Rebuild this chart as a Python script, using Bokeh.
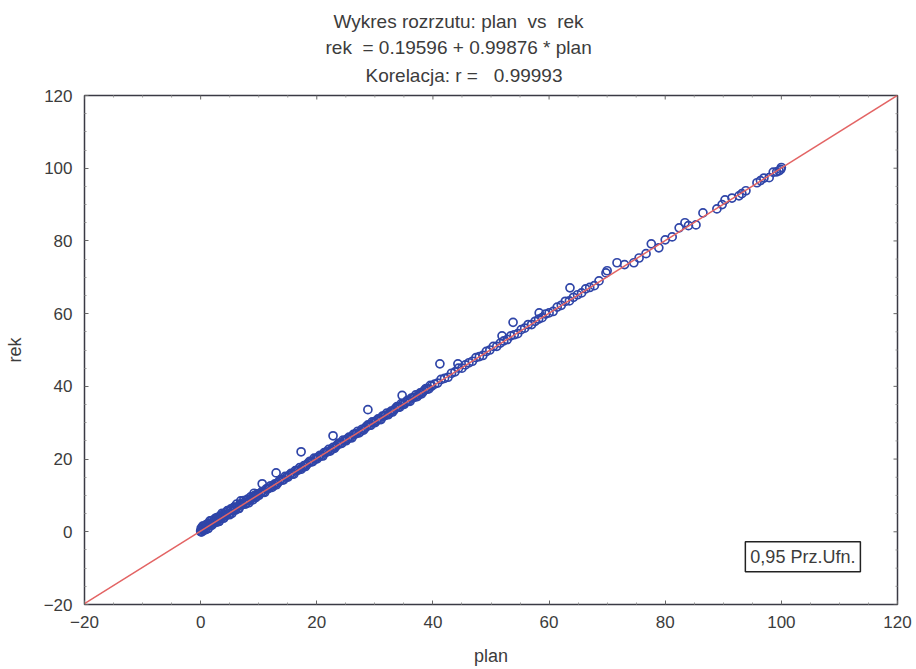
import math
from bokeh.plotting import figure
from bokeh.models import Range1d, Title, Label, FixedTicker
from bokeh.embed import file_html
from bokeh.resources import INLINE

FONT = "Liberation Sans"
TEXT_COLOR = "#3c3c3c"

# ---- data ----
plan_band_low = [0.0, 0.1, 0.2, 0.3, 0.4, 0.5, 0.7, 0.8, 1.0, 1.2, 1.3, 1.5, 1.7, 1.9, 2.0, 2.2,
                 2.4, 2.6, 2.8, 3.0, 3.2, 3.4, 3.6, 3.8, 4.0, 4.2, 4.5, 4.7, 5.0, 5.2, 5.5, 5.8,
                 6.0, 6.3, 6.6, 6.9, 7.2, 7.5, 7.8, 8.1, 8.4, 8.7, 9.0, 9.3, 9.6, 9.9]
rek_band_low = [0.2, 1.0, 0.0, 0.9, 1.5, 0.5, 1.4, 0.6, 2.0, 1.6, 0.9, 2.3, 2.0, 3.1, 1.9, 2.7,
                3.3, 2.6, 3.9, 3.3, 2.9, 4.2, 3.8, 4.8, 3.8, 4.8, 4.6, 5.6, 4.7, 5.9, 5.8, 6.8,
                6.0, 6.8, 6.4, 7.7, 7.5, 8.1, 7.7, 9.0, 8.6, 9.1, 8.8, 10.0, 9.7, 10.4]

plan_band_low2 = [0.05, 0.15, 0.25, 0.35, 0.45, 0.6, 0.9, 1.1, 1.4, 1.6, 1.8, 2.1, 2.3, 2.5,
                  2.7, 2.9, 3.1, 3.3, 3.5, 3.7, 3.9, 4.1, 4.4, 4.6, 4.9, 5.1, 5.4, 5.7, 5.9,
                  6.2, 6.5, 6.8, 7.1, 7.4, 7.7, 8.0, 8.3, 8.6, 8.9, 9.2, 9.5, 9.8]
rek_band_low2 = [0.0, 0.75, 0.55, 1.55, 0.45, 1.4, 0.6, 2.1, 1.9, 3.0, 1.7, 2.7, 2.6, 3.7,
                 2.7, 3.7, 2.8, 4.3, 4.0, 5.1, 3.8, 4.7, 4.7, 5.8, 4.9, 5.9, 5.1, 6.7, 6.4,
                 7.6, 6.4, 7.4, 7.4, 8.6, 7.7, 8.8, 8.0, 9.6, 9.4, 10.6, 9.4, 10.4]

plan_band = [10.3, 10.8, 11.3, 11.8, 12.3, 12.8, 13.3, 13.8, 14.3, 14.8, 15.3, 15.8, 16.3, 16.8,
             17.3, 17.8, 18.3, 18.8, 19.3, 19.8, 20.3, 20.8, 21.3, 21.8, 22.3, 22.8, 23.3, 23.8,
             24.3, 24.8, 25.3, 25.8, 26.3, 26.8, 27.3, 27.8, 28.3, 28.8, 29.3, 29.8, 30.3, 30.8,
             31.3, 31.8, 32.3, 32.8, 33.3, 33.8, 34.3, 34.8, 35.3, 35.8, 36.3, 36.8, 37.3, 37.8,
             38.3, 38.8, 39.3, 39.8, 40.3, 40.8, 41.4, 42.0, 42.6, 43.2, 43.8, 44.4, 45.0, 45.6,
             46.2, 46.8, 47.4, 48.0, 48.6, 49.2, 49.8, 50.4, 51.0, 51.6, 52.2, 52.8, 53.4, 54.0,
             54.6, 55.2, 55.8, 56.4, 57.0, 57.6, 58.2, 58.8, 59.4, 60.0, 60.7, 61.4, 62.1, 62.8,
             63.5, 64.2, 64.9, 65.6, 66.3, 67.0, 67.8, 68.6]
rek_band = [10.6, 10.9, 11.8, 12.0, 12.2, 13.2, 13.5, 14.4, 14.3, 15.1, 15.6, 15.9, 16.8, 17.0,
            17.2, 18.2, 18.5, 19.4, 19.3, 20.1, 20.6, 20.9, 21.8, 22.0, 22.2, 23.2, 23.5, 24.4,
            24.3, 25.1, 25.6, 25.9, 26.8, 27.0, 27.2, 28.2, 28.5, 29.4, 29.3, 30.1, 30.6, 30.9,
            31.8, 32.0, 32.2, 33.2, 33.5, 34.4, 34.3, 35.1, 35.6, 35.9, 36.8, 37.0, 37.2, 38.2,
            38.5, 39.4, 39.3, 40.1, 40.6, 40.9, 41.9, 42.2, 42.5, 43.6, 44.0, 45.0, 45.0, 45.9,
            46.5, 46.9, 47.9, 48.2, 48.5, 49.6, 50.0, 51.0, 51.0, 51.9, 52.5, 52.9, 53.9, 54.2,
            54.5, 55.6, 56.0, 57.0, 57.0, 57.9, 58.5, 58.9, 59.9, 60.2, 60.6, 61.8, 62.3, 63.4,
            63.5, 64.5, 65.2, 65.7, 66.8, 67.2, 67.7, 69.0]

plan_band2 = [10.05, 10.55, 11.05, 11.55, 12.05, 12.55, 13.05, 13.55, 14.05, 14.55,
              15.05, 15.55, 16.05, 16.55, 17.05, 17.55, 18.05, 18.55, 19.05, 19.55,
              20.05, 20.55, 21.05, 21.55, 22.05, 22.55, 23.05, 23.55, 24.05, 24.55,
              25.05, 25.55, 26.05, 26.55, 27.05, 27.55, 28.05, 28.55, 29.05, 29.55,
              30.05, 30.55, 31.05, 31.55, 32.05, 32.55, 33.05, 33.55, 34.05, 34.55,
              35.05, 35.55, 36.05, 36.55, 37.05, 37.55, 38.05, 38.55, 39.05, 39.55]
rek_band2 = [10.05, 11.05, 10.85, 11.85, 12.65, 12.65, 12.95, 13.95, 14.25, 15.25,
             15.05, 16.05, 15.85, 16.85, 17.65, 17.65, 17.95, 18.95, 19.25, 20.25,
             20.05, 21.05, 20.85, 21.85, 22.65, 22.65, 22.95, 23.95, 24.25, 25.25,
             25.05, 26.05, 25.85, 26.85, 27.65, 27.65, 27.95, 28.95, 29.25, 30.25,
             30.05, 31.05, 30.85, 31.85, 32.65, 32.65, 32.95, 33.95, 34.25, 35.25,
             35.05, 36.05, 35.85, 36.85, 37.65, 37.65, 37.95, 38.95, 39.25, 40.25]

plan_upper = [69.8, 71.7, 73.0, 74.6, 75.5, 76.7, 77.6, 78.9, 80.0, 81.2, 82.4, 83.4, 84.0, 85.3,
              86.5, 88.9, 89.8, 90.3, 91.5, 92.7, 93.2, 93.9, 95.8, 96.4, 97.0, 97.9, 98.6, 99.2,
              99.6, 99.9, 100.0]
rek_upper = [71.2, 74.0, 73.5, 74.0, 75.3, 76.5, 79.2, 78.1, 80.3, 81.1, 83.6, 85.0, 84.2, 84.4,
             87.7, 88.8, 90.0, 91.3, 91.8, 92.4, 93.0, 93.8, 96.0, 96.6, 97.3, 97.4, 98.9, 99.0,
             99.3, 99.7, 100.2]

plan_out = [5.2, 6.9, 10.6, 13.0, 17.3, 22.8, 28.8, 34.7, 41.2, 44.3, 51.9, 53.8, 58.3, 63.6, 70.0]
rek_out = [6.3, 8.5, 13.2, 16.2, 22.0, 26.4, 33.6, 37.5, 46.2, 46.2, 53.9, 57.6, 60.2, 67.1, 71.8]

plan = plan_band_low + plan_band_low2 + plan_band + plan_band2 + plan_upper + plan_out
rek = rek_band_low + rek_band_low2 + rek_band + rek_band2 + rek_upper + rek_out

intercept = 0.19596
slope = 0.99876
axis_lo, axis_hi = -20, 120
tick_values = [-20, 0, 20, 40, 60, 80, 100, 120]
title_lines = ["Wykres rozrzutu: plan\u00a0 vs\u00a0 rek",
               "rek\u00a0 = 0.19596 + 0.99876 * plan",
               "Korelacja: r =\u00a0\u00a0 0.99993"]
legend_text = "0,95 Prz.Ufn."

# ---- figure ----
p = figure(width=916, height=669, output_backend="svg", toolbar_location=None,
           x_range=Range1d(axis_lo, axis_hi), y_range=Range1d(axis_lo, axis_hi),
           min_border_left=84, min_border_right=19, min_border_top=95, min_border_bottom=65,
           x_axis_label="plan", y_axis_label="rek", title=None)
p.background_fill_color = "white"
p.border_fill_color = "white"
p.grid.visible = False
p.outline_line_color = "#3a3a44"
p.outline_line_width = 1.5

minor = [v for v in range(axis_lo, axis_hi + 1, 5) if v not in tick_values]
ticker = FixedTicker(ticks=tick_values, minor_ticks=minor)

def style_axis(ax):
    ax.ticker = ticker
    ax.axis_line_color = None
    ax.major_tick_in = 4
    ax.major_tick_out = 0
    ax.minor_tick_in = 2
    ax.minor_tick_out = 0
    ax.major_tick_line_color = "#666666"
    ax.minor_tick_line_color = "#999999"
    ax.major_label_text_font = FONT
    ax.major_label_text_font_size = "17px"
    ax.major_label_text_color = TEXT_COLOR
    ax.axis_label_text_font = FONT
    ax.axis_label_text_font_size = "18px"
    ax.axis_label_text_font_style = "normal"
    ax.axis_label_text_color = TEXT_COLOR

for ax in p.xaxis:
    style_axis(ax)
    ax.major_label_standoff = 11
    ax.axis_label_standoff = 15
for ax in p.yaxis:
    style_axis(ax)
    ax.major_label_standoff = 12
    ax.axis_label_standoff = 16
    ax.major_label_orientation = "horizontal"

# titles (bottom line added first so it sits nearest the plot)
title_offsets = [249, 241, 281]
title_standoffs = [15, -9, 19]
for line, off, so in reversed(list(zip(title_lines, title_offsets, title_standoffs))):
    p.add_layout(Title(text=line, align="left", offset=off, text_font=FONT,
                       text_font_size="19px", text_font_style="normal",
                       text_color=TEXT_COLOR, standoff=so), "above")

# inward tick marks on the top and right edges of the frame
p.scatter(tick_values, [axis_hi] * len(tick_values), marker="dash", angle=math.pi / 2,
          size=8, line_color="#666666", line_width=1)
p.scatter(minor, [axis_hi] * len(minor), marker="dash", angle=math.pi / 2,
          size=4, line_color="#999999", line_width=1)
p.scatter([axis_hi] * len(tick_values), tick_values, marker="dash",
          size=8, line_color="#666666", line_width=1)
p.scatter([axis_hi] * len(minor), minor, marker="dash",
          size=4, line_color="#999999", line_width=1)

p.scatter(plan, rek, marker="circle", size=8, fill_color=None,
          line_color="#2f45a8", line_width=1.7)

line_x = [axis_lo, axis_hi]
line_y = [intercept + slope * v for v in line_x]
p.line(line_x, line_y, line_color="#e36464", line_width=1.5)

p.add_layout(Label(x=93.8, y=-6.9, text=legend_text, text_font=FONT, text_font_size="18px",
                   text_color=TEXT_COLOR, text_baseline="middle", text_align="left",
                   border_line_color="#222222", border_line_width=1.5,
                   background_fill_color="white", padding=5))

open("out.html", "w").write(file_html(p, INLINE))
